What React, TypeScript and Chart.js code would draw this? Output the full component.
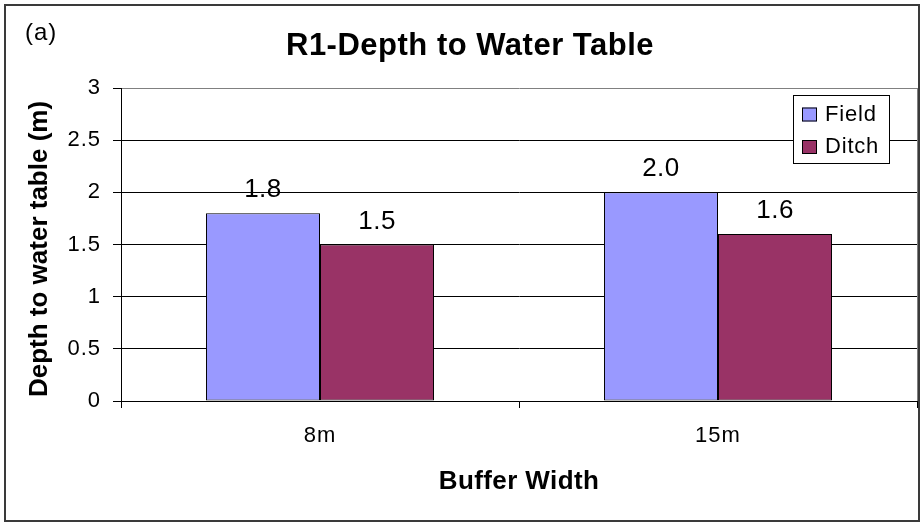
import React, { useEffect, useRef } from "react";
import { Chart, registerables } from "chart.js";

Chart.register(...registerables);

// ---- data ----
const categories = ["8m", "15m"];
const seriesNames = ["Field", "Ditch"];
const fieldValues = [1.8, 2.0];
const ditchValues = [1.5, 1.6];
const yTickValues = [0, 0.5, 1, 1.5, 2, 2.5, 3];
const chartTitle = "R1-Depth to Water Table";
const panelLabel = "(a)";
const xAxisTitle = "Buffer Width";
const yAxisTitle = "Depth to water table (m)";

// ---- styles ----
const FONT = "'Liberation Sans', Arial, Helvetica, sans-serif";
const FIELD_COLOR = "#9999FF";
const DITCH_COLOR = "#993366";

function setSpacing(ctx: any, px: number) {
  try {
    ctx.letterSpacing = px + "px";
  } catch (e) {}
}

const decor = {
  id: "decor",
  beforeDraw(chart: any) {
    const ctx = chart.ctx;
    ctx.save();
    ctx.fillStyle = "#ffffff";
    ctx.fillRect(0, 0, chart.width, chart.height);
    ctx.restore();
    setSpacing(ctx, 1);
  },
  afterDatasetsDraw(chart: any) {
    const ctx = chart.ctx;
    ctx.save();
    setSpacing(ctx, 0.5);
    ctx.font = `26px ${FONT}`;
    ctx.fillStyle = "#000";
    ctx.textAlign = "center";
    ctx.textBaseline = "alphabetic";
    chart.data.datasets.forEach((ds: any, di: number) => {
      const meta = chart.getDatasetMeta(di);
      meta.data.forEach((bar: any, i: number) => {
        const v = ds.data[i] as number;
        ctx.fillText(v.toFixed(1), bar.x, bar.y - 16);
      });
    });
    ctx.restore();
  },
  afterDraw(chart: any) {
    const ctx = chart.ctx;
    const area = chart.chartArea;
    ctx.save();
    setSpacing(ctx, 0);
    // right plot border (gray)
    ctx.strokeStyle = "#808080";
    ctx.lineWidth = 1;
    ctx.beginPath();
    ctx.moveTo(Math.round(area.right) + 0.5, area.top);
    ctx.lineTo(Math.round(area.right) + 0.5, area.bottom);
    ctx.stroke();

    // legend
    const lx = 793, ly = 95, lw = 96, lh = 68;
    ctx.fillStyle = "#fff";
    ctx.fillRect(lx, ly, lw, lh);
    ctx.strokeStyle = "#000";
    ctx.lineWidth = 1;
    ctx.strokeRect(lx + 0.5, ly + 0.5, lw, lh);
    ctx.font = `22px ${FONT}`;
    setSpacing(ctx, 0.8);
    ctx.textAlign = "left";
    ctx.textBaseline = "alphabetic";
    chart.data.datasets.forEach((ds: any, i: number) => {
      const sy = 107.5 + i * 32.5;
      ctx.fillStyle = ds.backgroundColor;
      ctx.fillRect(802, sy, 15, 14);
      ctx.strokeStyle = "#000";
      ctx.strokeRect(802.5, sy + 0.5, 14, 13);
      ctx.fillStyle = "#000";
      ctx.fillText(ds.label, 825, sy + 13);
    });

    // chart title
    ctx.font = `bold 31px ${FONT}`;
    setSpacing(ctx, 0.5);
    ctx.textAlign = "center";
    ctx.fillText(chartTitle, 470, 55);

    // panel label
    ctx.font = `24px ${FONT}`;
    setSpacing(ctx, 1);
    ctx.textAlign = "left";
    ctx.fillText(panelLabel, 25, 40);

    // x-axis title
    ctx.font = `bold 26px ${FONT}`;
    setSpacing(ctx, 0.4);
    ctx.textAlign = "center";
    ctx.fillText(xAxisTitle, 519, 489);

    // y-axis title
    ctx.save();
    ctx.translate(47, 249);
    ctx.rotate(-Math.PI / 2);
    ctx.font = `bold 26px ${FONT}`;
    setSpacing(ctx, 0);
    ctx.textAlign = "center";
    ctx.fillText(yAxisTitle, 0, 0);
    ctx.restore();

    // outer frame
    setSpacing(ctx, 0);
    ctx.strokeStyle = "#3a3a3a";
    ctx.lineWidth = 2;
    ctx.strokeRect(5, 5, 914, 516);
    ctx.restore();
  },
};

export default function App() {
  const ref = useRef<HTMLCanvasElement>(null);
  useEffect(() => {
    const canvas = ref.current;
    if (!canvas) return;
    const chart = new Chart(canvas, {
      type: "bar",
      data: {
        labels: categories,
        datasets: [
          {
            label: seriesNames[0],
            data: fieldValues,
            backgroundColor: FIELD_COLOR,
            borderColor: "#000",
            borderWidth: 1,
            borderSkipped: false,
            categoryPercentage: 0.573,
            barPercentage: 1,
          },
          {
            label: seriesNames[1],
            data: ditchValues,
            backgroundColor: DITCH_COLOR,
            borderColor: "#000",
            borderWidth: 1,
            borderSkipped: false,
            categoryPercentage: 0.573,
            barPercentage: 1,
          },
        ],
      },
      options: {
        responsive: false,
        animation: false,
        devicePixelRatio: 1,
        layout: { padding: { top: 88, right: 7, bottom: 0, left: 0 } },
        plugins: {
          legend: { display: false },
          title: { display: false },
          tooltip: { enabled: false },
        },
        scales: {
          x: {
            offset: true,
            grid: {
              offset: true,
              drawOnChartArea: false,
              drawTicks: true,
              tickLength: 7,
              color: "#000",
              lineWidth: 1,
            },
            border: { display: true, color: "#000", width: 1 },
            ticks: {
              font: { family: FONT, size: 22 },
              color: "#000",
              padding: 15,
              maxRotation: 0,
            },
            afterFit: (s: any) => {
              s.height = 126;
            },
          },
          y: {
            min: 0,
            max: 3,
            afterBuildTicks: (s: any) => {
              s.ticks = yTickValues.map((v) => ({ value: v }));
            },
            grid: {
              color: (c: any) => (c.tick && c.tick.value === 3 ? "#808080" : "#000"),
              tickColor: "#000",
              tickLength: 8,
              drawTicks: true,
              lineWidth: 1,
            },
            border: { display: true, color: "#000", width: 1 },
            ticks: {
              font: { family: FONT, size: 22 },
              color: "#000",
              padding: 12,
              callback: (v: any) => String(v),
            },
            afterFit: (s: any) => {
              s.width = 121;
            },
          },
        },
      },
      plugins: [decor],
    });
    return () => chart.destroy();
  }, []);
  return (
    <div style={{ position: "fixed", left: 0, top: 0, width: 924, height: 527, background: "#fff" }}>
      <canvas ref={ref} width={924} height={527} style={{ display: "block" }} />
    </div>
  );
}
